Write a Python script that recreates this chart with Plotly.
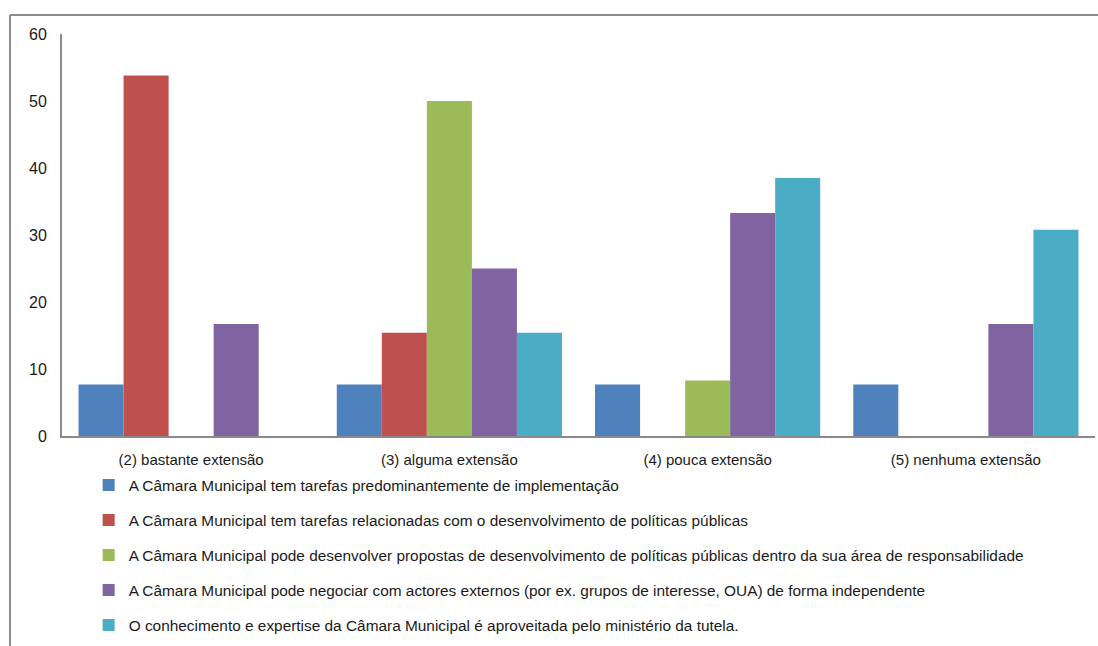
import plotly.graph_objects as go

categories = ["(2) bastante extensão", "(3) alguma extensão", "(4) pouca extensão", "(5) nenhuma extensão"]

series_names = [
    "A Câmara Municipal tem tarefas predominantemente de implementação",
    "A Câmara Municipal tem tarefas relacionadas com o desenvolvimento de políticas públicas",
    "A Câmara Municipal pode desenvolver propostas de desenvolvimento de políticas públicas dentro da sua área de responsabilidade",
    "A Câmara Municipal pode negociar com actores externos (por ex. grupos de interesse, OUA) de forma independente",
    "O conhecimento e expertise da Câmara Municipal é aproveitada pelo ministério da tutela.",
]

implementacao = [7.7, 7.7, 7.7, 7.7]
desenvolvimento_politicas = [53.8, 15.4, 0, 0]
propostas = [0, 50.0, 8.3, 0]
negociar = [16.7, 25.0, 33.3, 16.7]
conhecimento = [0, 15.4, 38.5, 30.8]

series_values = [implementacao, desenvolvimento_politicas, propostas, negociar, conhecimento]
colors = ["#4F81BD", "#C0504D", "#9BBB59", "#8064A2", "#4BACC6"]

W, H = 1098, 646
ml, mr, mt, mb = 62, 3, 34, 0
plot_h = H - mt - mb
axis_bottom_px = 436  # pixel row of the category axis

fig = go.Figure()
for i, (name, vals, col) in enumerate(zip(series_names, series_values, colors)):
    fig.add_trace(go.Bar(
        x=categories, y=vals, name=name,
        marker=dict(color=col, line=dict(width=0)),
        legendgroup=f"g{i}",
    ))

font_family = "Liberation Sans, Arial, sans-serif"

fig.update_layout(
    width=W, height=H,
    margin=dict(l=ml, r=mr, t=mt, b=mb, pad=0, autoexpand=False),
    paper_bgcolor="white", plot_bgcolor="white",
    barmode="group", bargap=0.128, bargroupgap=0,
    font=dict(family=font_family, size=15, color="#1a1a1a"),
    showlegend=True,
    legend=dict(
        orientation="v", x=0.0258, xanchor="left",
        y=(H - 468.5) / plot_h, yanchor="top",
        font=dict(size=15.4, color="#1a1a1a"),
        tracegroupgap=12, itemwidth=30, bgcolor="rgba(0,0,0,0)",
        traceorder="grouped",
    ),
    xaxis=dict(
        showgrid=False, showline=True, linecolor="#8a8a8a", linewidth=2,
        ticks="", tickfont=dict(size=15), ticklabelstandoff=9, fixedrange=True,
    ),
    yaxis=dict(
        domain=[(H - axis_bottom_px) / plot_h, 1],
        range=[0, 60], dtick=10, showgrid=False, showline=True,
        linecolor="#8a8a8a", linewidth=2, ticks="", zeroline=False,
        tickfont=dict(size=16), ticklabelstandoff=10,
    ),
)

# outer frame: top and left border of the chart area
fx0 = (10 - ml) / (W - ml - mr)
fy0 = (H - 15) / plot_h
fig.add_shape(type="line", xref="paper", yref="paper",
              x0=fx0, x1=1.01, y0=fy0, y1=fy0,
              line=dict(color="#8c8c8c", width=2))
fig.add_shape(type="line", xref="paper", yref="paper",
              x0=fx0, x1=fx0, y0=fy0, y1=-0.01,
              line=dict(color="#8c8c8c", width=2))

fig.write_html("out.html")
